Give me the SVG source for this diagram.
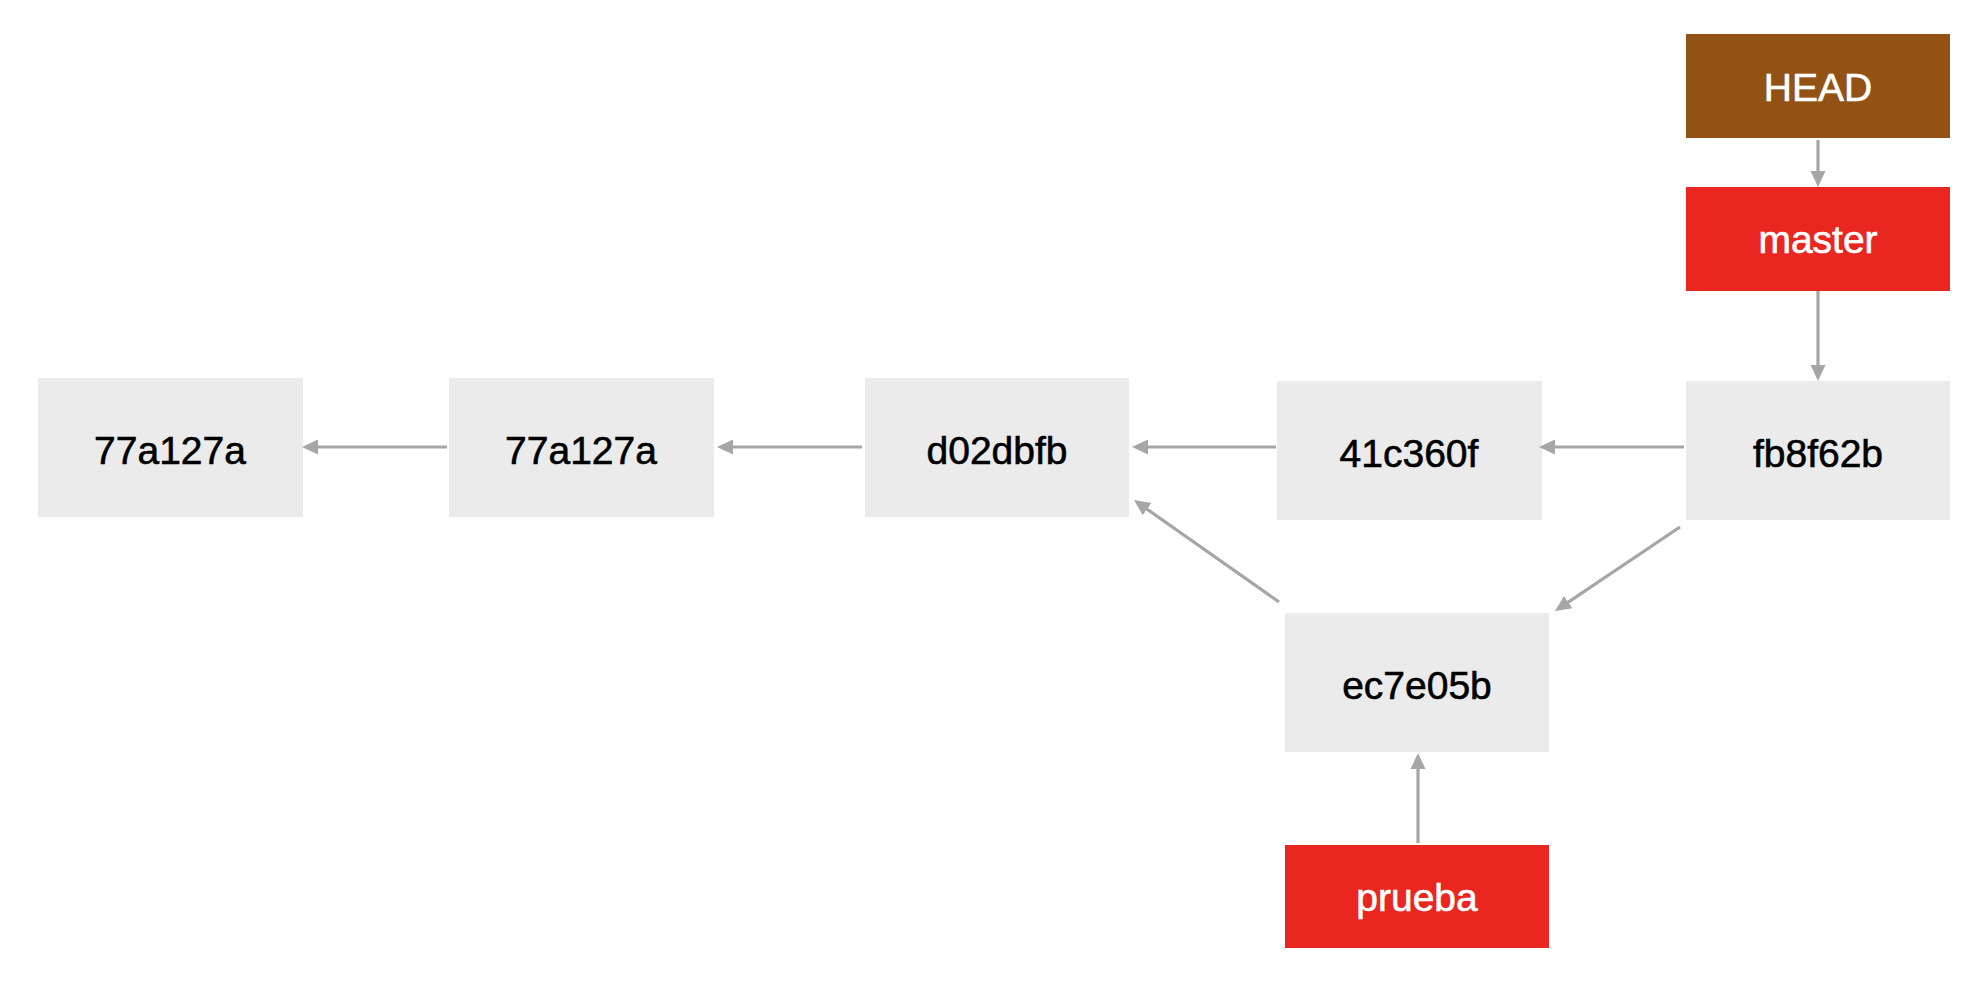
<svg xmlns="http://www.w3.org/2000/svg" width="1978" height="984" viewBox="0 0 1978 984">
<style>
.commit{fill:#ebebeb}
.head{fill:#925214}
.branch{fill:#ea2620}
.t{font-family:"Liberation Sans",Arial,Helvetica,sans-serif;font-size:39px;text-anchor:middle;stroke-width:0.6px}
.dark{fill:#000;stroke:#000}
.light{fill:#fff;stroke:#fff}
.edge{stroke:#a6a6a6;stroke-width:3.2;fill:none;marker-end:url(#arr)}
</style>
<defs>
<marker id="arr" markerUnits="userSpaceOnUse" markerWidth="18" markerHeight="18" viewBox="0 0 18 18" refX="12" refY="9" orient="auto">
<path d="M0,1.5 L16,9 L0,16.5 Z" fill="#a6a6a6"/>
</marker>
</defs>
<rect width="1978" height="984" fill="#fff"/>
<g id="c1"><rect class="commit" x="38" y="378" width="265" height="139"/><text class="t dark" x="170" y="464">77a127a</text></g>
<g id="c2"><rect class="commit" x="449" y="378" width="265" height="139"/><text class="t dark" x="581" y="464">77a127a</text></g>
<g id="c3"><rect class="commit" x="865" y="378" width="264" height="139"/><text class="t dark" x="997" y="464">d02dbfb</text></g>
<g id="c4"><rect class="commit" x="1277" y="381" width="265" height="139"/><text class="t dark" x="1409" y="467">41c360f</text></g>
<g id="c5"><rect class="commit" x="1686" y="381" width="264" height="139"/><text class="t dark" x="1818" y="467">fb8f62b</text></g>
<g id="c6"><rect class="commit" x="1285" y="613" width="264" height="139"/><text class="t dark" x="1417" y="699">ec7e05b</text></g>
<g id="head"><rect class="head" x="1686" y="34" width="264" height="104"/><text class="t light" x="1818" y="101">HEAD</text></g>
<g id="master"><rect class="branch" x="1686" y="187" width="264" height="104"/><text class="t light" x="1818" y="253">master</text></g>
<g id="prueba"><rect class="branch" x="1285" y="845" width="264" height="103"/><text class="t light" x="1417" y="911">prueba</text></g>
<g id="connectors">
<line class="edge" x1="447" y1="447" x2="306" y2="447"/>
<line class="edge" x1="862" y1="447" x2="721" y2="447"/>
<line class="edge" x1="1276" y1="447" x2="1136" y2="447"/>
<line class="edge" x1="1684" y1="447" x2="1543" y2="447"/>
<line class="edge" x1="1818" y1="140" x2="1818" y2="183"/>
<line class="edge" x1="1818" y1="291" x2="1818" y2="377"/>
<line class="edge" x1="1418" y1="843" x2="1418" y2="757"/>
<line class="edge" x1="1279" y1="602" x2="1137.3" y2="502.3"/>
<line class="edge" x1="1680" y1="527" x2="1558.3" y2="608.8"/>
</g>
</svg>
